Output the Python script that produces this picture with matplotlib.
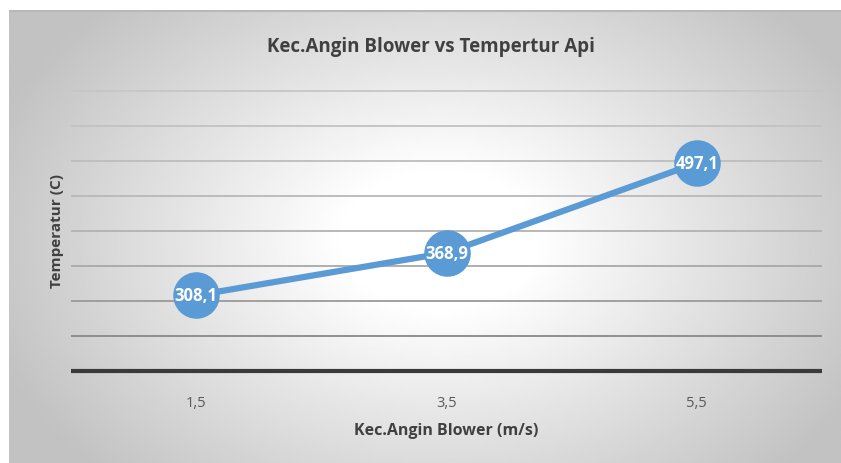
import numpy as np
import matplotlib.pyplot as plt

# data
kecepatan = ['1,5', '3,5', '5,5']
temperatur = [308.1, 368.9, 497.1]
label_nilai = ['308,1', '368,9', '497,1']
grid_y = [250, 300, 350, 400, 450, 500, 550, 600]

plt.rcParams['font.family'] = ['Open Sans', 'DejaVu Sans']

fig = plt.figure(figsize=(8.41, 4.64), dpi=100)
fig.patch.set_facecolor('white')

# background: radial gradient (white centre, grey edges)
bg = fig.add_axes([9 / 841, 0, 1 - 9 / 841, 1 - 11 / 464])
W, H = 832, 453
xx, yy = np.meshgrid(np.linspace(0, W, 400), np.linspace(0, H, 220))
cx, cy = 430, 230
r = np.sqrt(((xx - cx) / 480) ** 2 + ((yy - cy) / 340) ** 2)
shade = 1.0 - 0.26 * np.clip(r - 0.2, 0, None) / 0.85
shade = np.clip(shade, 0.76, 1.0)
bg.imshow(shade, cmap='gray', vmin=0, vmax=1, aspect='auto',
          extent=[0, W, H, 0], interpolation='bilinear')
bg.axhline(0.5, color='#b8b8b8', lw=1.5)
bg.set_axis_off()

ax = fig.add_axes([71 / 841, 1 - 372 / 464, 751 / 841, 280 / 464])
ax.patch.set_alpha(0)
x = np.arange(len(kecepatan))

grid_cols = ['#888888', '#9a9a9a', '#a8a8a8', '#b2b2b2', '#b8b8b8', '#bdbdbd', '#c2c2c2', '#c6c6c6']
for g, c in zip(grid_y, grid_cols):
    ax.axhline(g, color=c, lw=1.3, zorder=1, clip_on=False, solid_capstyle='butt')
ax.axhline(200, color='#3a3a3a', lw=3, zorder=2, clip_on=False, solid_capstyle='butt')

ax.plot(x, temperatur, color='#5b9bd5', lw=4.5, marker='o', markersize=32.5,
        markerfacecolor='#5b9bd5', markeredgecolor='#5b9bd5', zorder=3,
        solid_capstyle='round')
for xi, yi, t in zip(x, temperatur, label_nilai):
    ax.text(xi, yi, t, ha='center', va='center', color='white',
            fontsize=12, fontweight='bold', zorder=4)

ax.set_xlim(-0.5, 2.5)
ax.set_ylim(200, 600)
ax.set_xticks(x)
ax.set_xticklabels(kecepatan, fontsize=10.5, color='#595959')
ax.tick_params(axis='x', length=0, pad=17)
ax.set_yticks([])
for s in ax.spines.values():
    s.set_visible(False)

ax.set_xlabel('Kec.Angin Blower (m/s)', fontsize=11.5, fontweight='bold',
              color='#404040', labelpad=9)
fig.text(57 / 841, 1 - 231 / 464, 'Temperatur (C)', rotation=90, ha='center',
         va='center', fontsize=11, fontweight='bold', color='#404040')
fig.text(431 / 841, 1 - 47 / 464, 'Kec.Angin Blower vs Tempertur Api',
         ha='center', va='center', fontsize=13.5, fontweight='bold', color='#404040')

fig.savefig('out.png', dpi=100)
